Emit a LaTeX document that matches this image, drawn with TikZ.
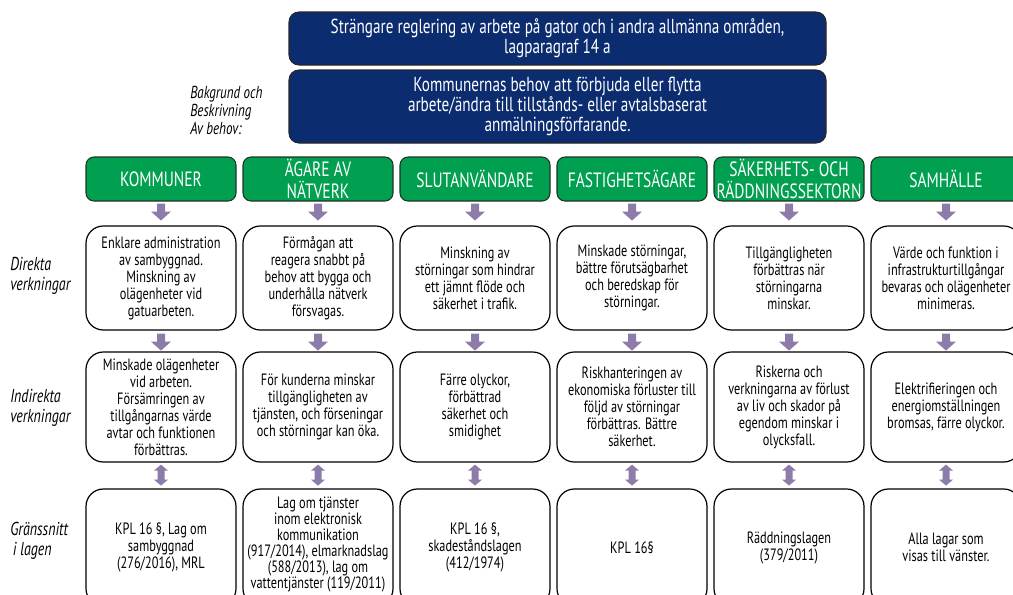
\documentclass[tikz,border=0pt]{standalone}
\usepackage{fontspec}
\setmainfont[FakeStretch=0.75]{PT Sans}
\usetikzlibrary{calc}
\definecolor{navy}{HTML}{0C2C70}
\definecolor{hgreen}{HTML}{00A050}
\definecolor{arrcol}{HTML}{8D7BA9}
\definecolor{hborder}{HTML}{1F3326}
\newcommand{\DArr}[2]{%
  \coordinate (t) at ($(#1)+(0,#2)$);
  \fill[arrcol] (t) ++(-4,0) -- ++(0,8) -- ++(-6,0) -- ++(10,9) -- ++(10,-9) -- ++(-6,0) -- ++(0,-8) -- cycle;}
\newcommand{\UDArr}[2]{%
  \coordinate (t) at ($(#1)+(0,#2)$);
  \fill[arrcol] (t) -- ++(7,6) -- ++(-3.5,0) -- ++(0,9) -- ++(3.5,0) -- ++(-7,6) -- ++(-7,-6) -- ++(3.5,0) -- ++(0,-9) -- ++(-3.5,0) -- cycle;}
\begin{document}
\begin{tikzpicture}[x=0.75pt,y=-0.75pt,
  navybox/.style={draw=black!85, line width=0.8pt, fill=navy, rounded corners=7.5pt, minimum width=402.75pt, text=white, align=center, font=\fontsize{15.2}{15.2}\selectfont},
  hbox/.style={draw=hborder, line width=0.8pt, fill=hgreen, rounded corners=6pt, minimum width=112.5pt, minimum height=33pt, text=white, align=center, inner sep=0pt, font=\fontsize{15.5}{16.5}\selectfont},
  wbox/.style={draw=black, line width=0.9pt, fill=white, rounded corners=13pt, minimum width=112.5pt},
  dbox/.style={wbox, minimum height=78pt},
  ibox/.style={wbox, minimum height=82.5pt},
  lbox/.style={wbox, minimum height=87.75pt},
  wtxt/.style={align=center, inner sep=0pt, font=\fontsize{12.3}{12.75}\selectfont},
  side/.style={anchor=west, align=left, inner sep=0pt, font=\fontsize{14}{15}\selectfont\itshape}
]
\useasboundingbox (0,0) rectangle (1013,594);
\clip (0,0) rectangle (1013,594);

% top boxes
\node[navybox, minimum height=39.75pt] (top1) at (557.5,38.5) {Strängare reglering av arbete på gator och i andra allmänna områden,\\lagparagraf 14 a};
\node[navybox, minimum height=54.75pt] (top2) at (557.5,106.5) {Kommunernas behov att förbjuda eller flytta\\arbete/ändra till tillstånds- eller avtalsbaserat\\anmälningsförfarande.};
\node[side, font=\fontsize{13}{13.5}\selectfont\itshape] (bg) at (190,110) {Bakgrund och\\Beskrivning\\Av behov:};

% side labels
\node[side] (ldir) at (10,276) {Direkta\\verkningar};
\node[side] (lind) at (10,408) {Indirekta\\verkningar};
\node[side] (llag) at (10,541) {Gränssnitt\\\hspace{2pt}i lagen};

% headers
\node[hbox] (g1) at (161,179) {KOMMUNER};
\node[hbox] (g2) at (318,179) {ÄGARE AV\\NÄTVERK};
\node[hbox] (g3) at (475,179) {SLUTANVÄNDARE};
\node[hbox] (g4) at (632,179) {FASTIGHETSÄGARE};
\node[hbox] (g5) at (789,179) {SÄKERHETS- OCH\\RÄDDNINGSSEKTORN};
\node[hbox] (g6) at (946,179) {SAMHÄLLE};

% direct
\node[dbox] (d1) at (161,278) {};
\node[dbox] (d2) at (318,278) {};
\node[dbox] (d3) at (475,278) {};
\node[dbox] (d4) at (632,278) {};
\node[dbox] (d5) at (789,278) {};
\node[dbox] (d6) at (946,278) {};
\node[wtxt] (td1) at (d1) {Enklare administration\\av sambyggnad.\\Minskning av\\olägenheter vid\\gatuarbeten.};
\node[wtxt] (td2) at (d2) {Förmågan att\\reagera snabbt på\\behov att bygga och\\underhålla nätverk\\försvagas.};
\node[wtxt] (td3) at (d3) {Minskning av\\störningar som hindrar\\ett jämnt flöde och\\säkerhet i trafik.};
\node[wtxt] (td4) at (d4) {Minskade störningar,\\bättre förutsägbarhet\\och beredskap för\\störningar.};
\node[wtxt] (td5) at (d5) {Tillgängligheten\\förbättras när\\störningarna\\minskar.};
\node[wtxt] (td6) at (d6) {Värde och funktion i\\infrastrukturtillgångar\\bevaras och olägenheter\\minimeras.};

% indirect
\node[ibox] (i1) at (161,407) {};
\node[ibox] (i2) at (318,407) {};
\node[ibox] (i3) at (475,407) {};
\node[ibox] (i4) at (632,407) {};
\node[ibox] (i5) at (789,407) {};
\node[ibox] (i6) at (946,407) {};
\node[wtxt] (ti1) at (i1) {Minskade olägenheter\\vid arbeten.\\Försämringen av\\tillgångarnas värde\\avtar och funktionen\\förbättras.};
\node[wtxt] (ti2) at (i2) {För kunderna minskar\\tillgängligheten av\\tjänsten, och förseningar\\och störningar kan öka.};
\node[wtxt] (ti3) at (i3) {Färre olyckor,\\förbättrad\\säkerhet och\\smidighet};
\node[wtxt] (ti4) at (i4) {Riskhanteringen av\\ekonomiska förluster till\\följd av störningar\\förbättras. Bättre\\säkerhet.};
\node[wtxt] (ti5) at (i5) {Riskerna och\\verkningarna av förlust\\av liv och skador på\\egendom minskar i\\olycksfall.};
\node[wtxt] (ti6) at (i6) {Elektrifieringen och\\energiomställningen\\bromsas, färre olyckor.};

% law
\node[lbox] (l1) at (161,547.5) {};
\node[lbox] (l2) at (318,547.5) {};
\node[lbox] (l3) at (475,547.5) {};
\node[lbox] (l4) at (632,547.5) {};
\node[lbox] (l5) at (789,547.5) {};
\node[lbox] (l6) at (946,547.5) {};
\node[wtxt] (tl1) at (l1) {KPL 16 §, Lag om\\sambyggnad\\(276/2016), MRL};
\node[wtxt, font=\fontsize{12.3}{12}\selectfont] (tl2) at ($(l2)+(0,-3)$) {Lag om tjänster\\inom elektronisk\\kommunikation\\(917/2014), elmarknadslag\\(588/2013), lag om\\vattentjänster (119/2011)};
\node[wtxt] (tl3) at (l3) {KPL 16 §,\\skadeståndslagen\\(412/1974)};
\node[wtxt] (tl4) at (l4) {KPL 16§};
\node[wtxt] (tl5) at (l5) {Räddningslagen\\(379/2011)};
\node[wtxt] (tl6) at (l6) {Alla lagar som\\visas till vänster.};

% arrows
\foreach \i in {1,...,6}{
  \DArr{g\i.south}{2}
  \DArr{d\i.south}{3}
  \UDArr{i\i.south}{2}
}
\end{tikzpicture}
\end{document}
